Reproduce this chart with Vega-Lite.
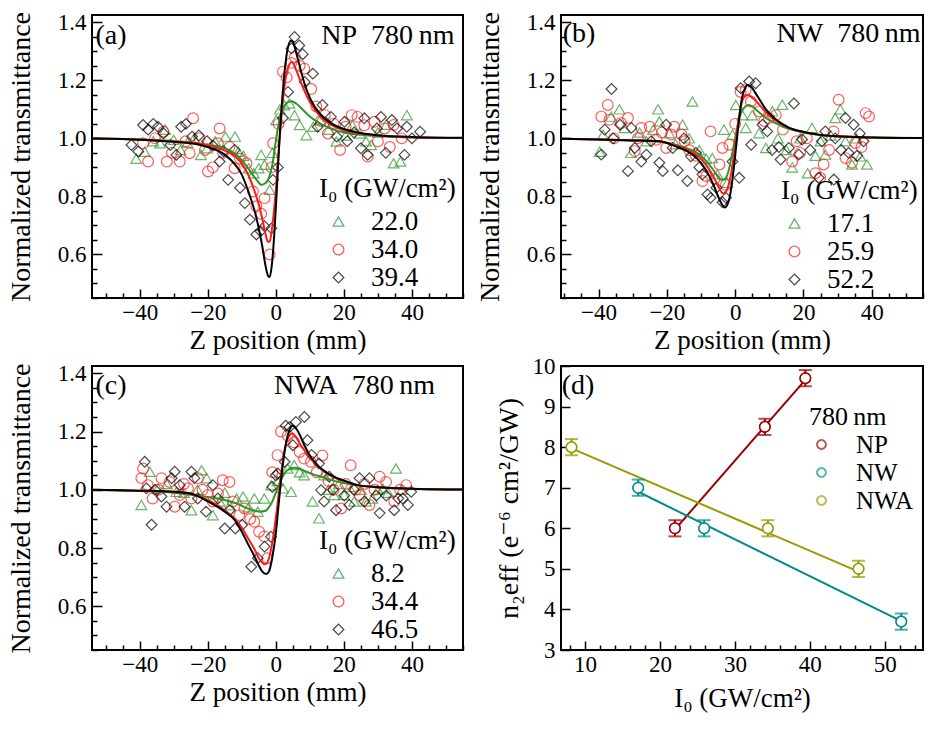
{
"$schema": "https://vega.github.io/schema/vega-lite/v6.json",
"padding": {"left": 6, "top": 10, "right": 5, "bottom": 5},
"background": "white",
"config": {
 "font": "Liberation Serif, DejaVu Serif, serif",
 "view": {"stroke": "black", "strokeWidth": 2},
 "axis": {"domain": false, "grid": false, "tickColor": "black", "tickWidth": 1.5, "labelColor": "black", "titleColor": "black"},
 "legend": {"titleColor": "black", "labelColor": "black", "symbolStrokeWidth": 1.3, "symbolSize": 115, "rowPadding": 0, "titlePadding": 5, "padding": 0},
 "text": {"font": "Liberation Serif, DejaVu Serif, serif", "color": "black"}
},
"columns": 2,
"spacing": {"row": 68, "column": 98},
"bounds": "flush",
"align": "each",
"resolve": {"scale": {"color": "independent", "shape": "independent", "stroke": "independent"}},
"datasets": {
"scan": [
{"p":"a","s":"22.0","z":-41,"t":0.93},{"p":"a","s":"22.0","z":-38.5,"t":0.954},{"p":"a","s":"22.0","z":-36,"t":0.99},{"p":"a","s":"22.0","z":-34,"t":0.983},{"p":"a","s":"22.0","z":-32.5,"t":1.03},{"p":"a","s":"22.0","z":-30,"t":0.995},{"p":"a","s":"22.0","z":-28,"t":0.96},{"p":"a","s":"22.0","z":-26,"t":0.985},{"p":"a","s":"22.0","z":-24,"t":1.0},{"p":"a","s":"22.0","z":-22,"t":0.943},{"p":"a","s":"22.0","z":-20.2,"t":0.966},{"p":"a","s":"22.0","z":-17.8,"t":0.99},{"p":"a","s":"22.0","z":-14.8,"t":1.006},{"p":"a","s":"22.0","z":-12,"t":1.006},{"p":"a","s":"22.0","z":-11,"t":0.954},{"p":"a","s":"22.0","z":-9.5,"t":0.94},{"p":"a","s":"22.0","z":-8,"t":0.897},{"p":"a","s":"22.0","z":-6.5,"t":0.88},{"p":"a","s":"22.0","z":-5,"t":0.897},{"p":"a","s":"22.0","z":-4.3,"t":0.943},{"p":"a","s":"22.0","z":-3.3,"t":0.909},{"p":"a","s":"22.0","z":-1.8,"t":0.823},{"p":"a","s":"22.0","z":-1,"t":0.95},{"p":"a","s":"22.0","z":0.1,"t":1.063},{"p":"a","s":"22.0","z":1.2,"t":1.1},{"p":"a","s":"22.0","z":2.5,"t":1.114},{"p":"a","s":"22.0","z":4,"t":1.12},{"p":"a","s":"22.0","z":5.5,"t":1.08},{"p":"a","s":"22.0","z":7,"t":1.046},{"p":"a","s":"22.0","z":9,"t":1.011},{"p":"a","s":"22.0","z":11,"t":1.04},{"p":"a","s":"22.0","z":13,"t":1.063},{"p":"a","s":"22.0","z":15.5,"t":1.03},{"p":"a","s":"22.0","z":17.8,"t":0.989},{"p":"a","s":"22.0","z":20.5,"t":1.01},{"p":"a","s":"22.0","z":22.5,"t":1.045},{"p":"a","s":"22.0","z":24.7,"t":1.017},{"p":"a","s":"22.0","z":26.5,"t":0.99},{"p":"a","s":"22.0","z":28,"t":0.977},{"p":"a","s":"22.0","z":30,"t":1.02},{"p":"a","s":"22.0","z":32.4,"t":1.047},{"p":"a","s":"22.0","z":34.6,"t":0.914},{"p":"a","s":"22.0","z":36.6,"t":0.92},{"p":"a","s":"22.0","z":38.5,"t":1.08},
{"p":"a","s":"34.0","z":-39,"t":0.983},{"p":"a","s":"34.0","z":-37.5,"t":0.92},{"p":"a","s":"34.0","z":-35.5,"t":1.0},{"p":"a","s":"34.0","z":-33,"t":1.023},{"p":"a","s":"34.0","z":-32,"t":0.92},{"p":"a","s":"34.0","z":-30.5,"t":0.95},{"p":"a","s":"34.0","z":-28.2,"t":0.92},{"p":"a","s":"34.0","z":-26.5,"t":0.99},{"p":"a","s":"34.0","z":-25.3,"t":0.949},{"p":"a","s":"34.0","z":-24.3,"t":1.069},{"p":"a","s":"34.0","z":-22.5,"t":1.0},{"p":"a","s":"34.0","z":-20.8,"t":0.96},{"p":"a","s":"34.0","z":-19.9,"t":0.886},{"p":"a","s":"34.0","z":-18.5,"t":0.9},{"p":"a","s":"34.0","z":-17,"t":0.983},{"p":"a","s":"34.0","z":-16.5,"t":1.034},{"p":"a","s":"34.0","z":-15.5,"t":0.95},{"p":"a","s":"34.0","z":-13.6,"t":0.97},{"p":"a","s":"34.0","z":-12.1,"t":0.897},{"p":"a","s":"34.0","z":-10.5,"t":0.93},{"p":"a","s":"34.0","z":-8.6,"t":0.914},{"p":"a","s":"34.0","z":-6.7,"t":0.817},{"p":"a","s":"34.0","z":-5.7,"t":0.766},{"p":"a","s":"34.0","z":-4.3,"t":0.74},{"p":"a","s":"34.0","z":-3.3,"t":0.794},{"p":"a","s":"34.0","z":-1.8,"t":0.6},{"p":"a","s":"34.0","z":-1.3,"t":0.9},{"p":"a","s":"34.0","z":-0.8,"t":0.983},{"p":"a","s":"34.0","z":0.8,"t":1.05},{"p":"a","s":"34.0","z":2.1,"t":1.23},{"p":"a","s":"34.0","z":3.2,"t":1.21},{"p":"a","s":"34.0","z":4.6,"t":1.26},{"p":"a","s":"34.0","z":5.6,"t":1.28},{"p":"a","s":"34.0","z":7,"t":1.25},{"p":"a","s":"34.0","z":8.4,"t":1.24},{"p":"a","s":"34.0","z":10.4,"t":1.17},{"p":"a","s":"34.0","z":11.9,"t":1.11},{"p":"a","s":"34.0","z":13.2,"t":1.06},{"p":"a","s":"34.0","z":14.4,"t":1.08},{"p":"a","s":"34.0","z":15.3,"t":1.017},{"p":"a","s":"34.0","z":17,"t":1.05},{"p":"a","s":"34.0","z":18.9,"t":0.96},{"p":"a","s":"34.0","z":20.5,"t":1.04},{"p":"a","s":"34.0","z":22.3,"t":1.08},{"p":"a","s":"34.0","z":24,"t":1.074},{"p":"a","s":"34.0","z":26,"t":1.045},{"p":"a","s":"34.0","z":27,"t":0.937},{"p":"a","s":"34.0","z":29,"t":1.057},{"p":"a","s":"34.0","z":30,"t":0.99},{"p":"a","s":"34.0","z":32,"t":1.034},{"p":"a","s":"34.0","z":33.5,"t":0.97},{"p":"a","s":"34.0","z":34.6,"t":1.046},{"p":"a","s":"34.0","z":37,"t":1.0},
{"p":"a","s":"39.4","z":-42.4,"t":0.977},{"p":"a","s":"39.4","z":-40.4,"t":0.955},{"p":"a","s":"39.4","z":-39,"t":1.046},{"p":"a","s":"39.4","z":-37.5,"t":1.03},{"p":"a","s":"39.4","z":-36,"t":1.05},{"p":"a","s":"39.4","z":-34.6,"t":1.04},{"p":"a","s":"39.4","z":-33,"t":1.017},{"p":"a","s":"39.4","z":-31,"t":0.977},{"p":"a","s":"39.4","z":-29.2,"t":0.943},{"p":"a","s":"39.4","z":-27.8,"t":1.04},{"p":"a","s":"39.4","z":-26.4,"t":1.05},{"p":"a","s":"39.4","z":-24.6,"t":1.006},{"p":"a","s":"39.4","z":-22.6,"t":1.01},{"p":"a","s":"39.4","z":-20.2,"t":0.99},{"p":"a","s":"39.4","z":-18.5,"t":0.975},{"p":"a","s":"39.4","z":-16.5,"t":0.92},{"p":"a","s":"39.4","z":-15.3,"t":0.955},{"p":"a","s":"39.4","z":-14,"t":0.857},{"p":"a","s":"39.4","z":-12.1,"t":0.96},{"p":"a","s":"39.4","z":-10.5,"t":0.83},{"p":"a","s":"39.4","z":-9.1,"t":0.777},{"p":"a","s":"39.4","z":-7.6,"t":0.72},{"p":"a","s":"39.4","z":-5.7,"t":0.669},{"p":"a","s":"39.4","z":-4.5,"t":0.68},{"p":"a","s":"39.4","z":-3.3,"t":0.697},{"p":"a","s":"39.4","z":-1.3,"t":0.69},{"p":"a","s":"39.4","z":-0.8,"t":0.857},{"p":"a","s":"39.4","z":0.6,"t":0.9},{"p":"a","s":"39.4","z":2.1,"t":1.07},{"p":"a","s":"39.4","z":3.6,"t":1.16},{"p":"a","s":"39.4","z":4.6,"t":1.31},{"p":"a","s":"39.4","z":5.5,"t":1.349},{"p":"a","s":"39.4","z":6.9,"t":1.32},{"p":"a","s":"39.4","z":7.9,"t":1.29},{"p":"a","s":"39.4","z":8.5,"t":1.194},{"p":"a","s":"39.4","z":10.9,"t":1.223},{"p":"a","s":"39.4","z":12.3,"t":1.04},{"p":"a","s":"39.4","z":13.7,"t":1.115},{"p":"a","s":"39.4","z":16.2,"t":1.074},{"p":"a","s":"39.4","z":17.9,"t":1.006},{"p":"a","s":"39.4","z":20.2,"t":1.057},{"p":"a","s":"39.4","z":21,"t":0.99},{"p":"a","s":"39.4","z":23,"t":1.02},{"p":"a","s":"39.4","z":25,"t":0.966},{"p":"a","s":"39.4","z":26,"t":1.069},{"p":"a","s":"39.4","z":27,"t":0.943},{"p":"a","s":"39.4","z":29.7,"t":1.034},{"p":"a","s":"39.4","z":30.9,"t":1.074},{"p":"a","s":"39.4","z":32.3,"t":0.95},{"p":"a","s":"39.4","z":34.1,"t":1.063},{"p":"a","s":"39.4","z":35.6,"t":1.034},{"p":"a","s":"39.4","z":37.8,"t":0.943},{"p":"a","s":"39.4","z":38.5,"t":1.04},{"p":"a","s":"39.4","z":40,"t":1.0},{"p":"a","s":"39.4","z":42.4,"t":1.023},
{"p":"b","s":"17.1","z":-39.7,"t":0.954},{"p":"b","s":"17.1","z":-38.7,"t":1.013},{"p":"b","s":"17.1","z":-36.3,"t":1.075},{"p":"b","s":"17.1","z":-33.9,"t":1.1},{"p":"b","s":"17.1","z":-32.4,"t":1.036},{"p":"b","s":"17.1","z":-30.5,"t":0.95},{"p":"b","s":"17.1","z":-28,"t":1.02},{"p":"b","s":"17.1","z":-26,"t":0.99},{"p":"b","s":"17.1","z":-24,"t":1.03},{"p":"b","s":"17.1","z":-22.6,"t":1.1},{"p":"b","s":"17.1","z":-22.2,"t":1.058},{"p":"b","s":"17.1","z":-19.3,"t":1.018},{"p":"b","s":"17.1","z":-17.5,"t":0.98},{"p":"b","s":"17.1","z":-15.4,"t":1.047},{"p":"b","s":"17.1","z":-13.5,"t":1.0},{"p":"b","s":"17.1","z":-12.5,"t":1.127},{"p":"b","s":"17.1","z":-10.5,"t":0.96},{"p":"b","s":"17.1","z":-8.5,"t":0.93},{"p":"b","s":"17.1","z":-6.7,"t":0.932},{"p":"b","s":"17.1","z":-5.2,"t":0.876},{"p":"b","s":"17.1","z":-3.3,"t":1.03},{"p":"b","s":"17.1","z":-2.3,"t":0.847},{"p":"b","s":"17.1","z":-0.8,"t":1.013},{"p":"b","s":"17.1","z":0.2,"t":1.115},{"p":"b","s":"17.1","z":2.1,"t":1.08},{"p":"b","s":"17.1","z":3.1,"t":1.036},{"p":"b","s":"17.1","z":5,"t":1.08},{"p":"b","s":"17.1","z":7,"t":1.018},{"p":"b","s":"17.1","z":9,"t":0.967},{"p":"b","s":"17.1","z":10.9,"t":1.093},{"p":"b","s":"17.1","z":12.5,"t":1.0},{"p":"b","s":"17.1","z":13.8,"t":1.116},{"p":"b","s":"17.1","z":15,"t":0.96},{"p":"b","s":"17.1","z":16.7,"t":0.9},{"p":"b","s":"17.1","z":19,"t":1.0},{"p":"b","s":"17.1","z":21.2,"t":0.88},{"p":"b","s":"17.1","z":22.5,"t":1.036},{"p":"b","s":"17.1","z":23.5,"t":0.94},{"p":"b","s":"17.1","z":25,"t":0.99},{"p":"b","s":"17.1","z":26.4,"t":0.944},{"p":"b","s":"17.1","z":28,"t":1.01},{"p":"b","s":"17.1","z":29.3,"t":1.07},{"p":"b","s":"17.1","z":30.8,"t":1.1},{"p":"b","s":"17.1","z":32.3,"t":0.99},{"p":"b","s":"17.1","z":34.2,"t":0.91},{"p":"b","s":"17.1","z":35.5,"t":1.0},{"p":"b","s":"17.1","z":36.6,"t":0.938},{"p":"b","s":"17.1","z":38.6,"t":0.91},
{"p":"b","s":"25.9","z":-39.2,"t":1.075},{"p":"b","s":"25.9","z":-37.3,"t":1.115},{"p":"b","s":"25.9","z":-36.8,"t":1.064},{"p":"b","s":"25.9","z":-35.5,"t":1.0},{"p":"b","s":"25.9","z":-33.4,"t":1.053},{"p":"b","s":"25.9","z":-31.4,"t":1.07},{"p":"b","s":"25.9","z":-29.4,"t":0.956},{"p":"b","s":"25.9","z":-28.5,"t":1.0},{"p":"b","s":"25.9","z":-27.5,"t":1.036},{"p":"b","s":"25.9","z":-25,"t":1.04},{"p":"b","s":"25.9","z":-23,"t":0.995},{"p":"b","s":"25.9","z":-21.5,"t":1.02},{"p":"b","s":"25.9","z":-20.2,"t":0.967},{"p":"b","s":"25.9","z":-18.7,"t":1.013},{"p":"b","s":"25.9","z":-17.8,"t":1.04},{"p":"b","s":"25.9","z":-15.7,"t":1.013},{"p":"b","s":"25.9","z":-14.8,"t":0.99},{"p":"b","s":"25.9","z":-13.5,"t":0.96},{"p":"b","s":"25.9","z":-11.5,"t":0.94},{"p":"b","s":"25.9","z":-9.6,"t":0.853},{"p":"b","s":"25.9","z":-8.5,"t":0.87},{"p":"b","s":"25.9","z":-7.2,"t":1.024},{"p":"b","s":"25.9","z":-6,"t":0.86},{"p":"b","s":"25.9","z":-4.6,"t":0.91},{"p":"b","s":"25.9","z":-3.7,"t":0.967},{"p":"b","s":"25.9","z":-2.7,"t":0.84},{"p":"b","s":"25.9","z":-1.7,"t":0.978},{"p":"b","s":"25.9","z":0,"t":1.05},{"p":"b","s":"25.9","z":1.6,"t":1.16},{"p":"b","s":"25.9","z":3.1,"t":1.167},{"p":"b","s":"25.9","z":4.6,"t":1.127},{"p":"b","s":"25.9","z":7,"t":1.093},{"p":"b","s":"25.9","z":8.5,"t":1.06},{"p":"b","s":"25.9","z":9.9,"t":1.07},{"p":"b","s":"25.9","z":11.9,"t":1.08},{"p":"b","s":"25.9","z":14,"t":1.03},{"p":"b","s":"25.9","z":16.7,"t":0.92},{"p":"b","s":"25.9","z":18,"t":0.99},{"p":"b","s":"25.9","z":19,"t":0.95},{"p":"b","s":"25.9","z":21,"t":1.0},{"p":"b","s":"25.9","z":23.5,"t":0.88},{"p":"b","s":"25.9","z":24.9,"t":0.864},{"p":"b","s":"25.9","z":25.9,"t":0.91},{"p":"b","s":"25.9","z":27.5,"t":0.96},{"p":"b","s":"25.9","z":28.8,"t":1.024},{"p":"b","s":"25.9","z":30.3,"t":1.133},{"p":"b","s":"25.9","z":32.3,"t":0.932},{"p":"b","s":"25.9","z":34.2,"t":0.916},{"p":"b","s":"25.9","z":35.2,"t":0.984},{"p":"b","s":"25.9","z":37,"t":0.97},{"p":"b","s":"25.9","z":38.2,"t":1.087},{"p":"b","s":"25.9","z":39.2,"t":1.075},
{"p":"b","s":"52.2","z":-39.2,"t":0.944},{"p":"b","s":"52.2","z":-38.2,"t":1.03},{"p":"b","s":"52.2","z":-36.2,"t":1.17},{"p":"b","s":"52.2","z":-35.7,"t":1.0},{"p":"b","s":"52.2","z":-33.7,"t":1.047},{"p":"b","s":"52.2","z":-31.4,"t":0.887},{"p":"b","s":"52.2","z":-30.4,"t":1.036},{"p":"b","s":"52.2","z":-29.4,"t":0.967},{"p":"b","s":"52.2","z":-27.5,"t":0.92},{"p":"b","s":"52.2","z":-26,"t":0.944},{"p":"b","s":"52.2","z":-24.6,"t":0.99},{"p":"b","s":"52.2","z":-22.2,"t":0.916},{"p":"b","s":"52.2","z":-21.2,"t":0.887},{"p":"b","s":"52.2","z":-20.2,"t":1.047},{"p":"b","s":"52.2","z":-18.3,"t":0.967},{"p":"b","s":"52.2","z":-16.8,"t":0.89},{"p":"b","s":"52.2","z":-15,"t":1.0},{"p":"b","s":"52.2","z":-14,"t":0.853},{"p":"b","s":"52.2","z":-13,"t":0.938},{"p":"b","s":"52.2","z":-11.5,"t":0.95},{"p":"b","s":"52.2","z":-10.5,"t":0.9},{"p":"b","s":"52.2","z":-9.6,"t":0.876},{"p":"b","s":"52.2","z":-8.1,"t":0.807},{"p":"b","s":"52.2","z":-7.2,"t":0.795},{"p":"b","s":"52.2","z":-5.5,"t":0.83},{"p":"b","s":"52.2","z":-3.7,"t":0.78},{"p":"b","s":"52.2","z":-2.7,"t":0.795},{"p":"b","s":"52.2","z":-0.8,"t":0.92},{"p":"b","s":"52.2","z":1.2,"t":0.864},{"p":"b","s":"52.2","z":1.6,"t":1.173},{"p":"b","s":"52.2","z":4.1,"t":1.196},{"p":"b","s":"52.2","z":4.7,"t":0.978},{"p":"b","s":"52.2","z":6,"t":1.19},{"p":"b","s":"52.2","z":8,"t":1.047},{"p":"b","s":"52.2","z":9.4,"t":1.024},{"p":"b","s":"52.2","z":10.8,"t":0.96},{"p":"b","s":"52.2","z":12.8,"t":0.97},{"p":"b","s":"52.2","z":13.3,"t":0.927},{"p":"b","s":"52.2","z":15.7,"t":0.967},{"p":"b","s":"52.2","z":17.2,"t":1.12},{"p":"b","s":"52.2","z":18.6,"t":0.944},{"p":"b","s":"52.2","z":19.6,"t":0.996},{"p":"b","s":"52.2","z":22,"t":0.96},{"p":"b","s":"52.2","z":24.5,"t":0.864},{"p":"b","s":"52.2","z":25.4,"t":0.99},{"p":"b","s":"52.2","z":26.4,"t":1.024},{"p":"b","s":"52.2","z":28.9,"t":0.858},{"p":"b","s":"52.2","z":29.3,"t":1.0},{"p":"b","s":"52.2","z":31,"t":0.96},{"p":"b","s":"52.2","z":32.3,"t":1.07},{"p":"b","s":"52.2","z":33.2,"t":0.95},{"p":"b","s":"52.2","z":34.7,"t":1.047},{"p":"b","s":"52.2","z":35.7,"t":0.94},{"p":"b","s":"52.2","z":36.5,"t":1.017},{"p":"b","s":"52.2","z":37.6,"t":0.99},
{"p":"c","s":"8.2","z":-39.5,"t":0.948},{"p":"c","s":"8.2","z":-37,"t":1.062},{"p":"c","s":"8.2","z":-34.6,"t":1.005},{"p":"c","s":"8.2","z":-32,"t":1.02},{"p":"c","s":"8.2","z":-29.2,"t":0.993},{"p":"c","s":"8.2","z":-27,"t":0.99},{"p":"c","s":"8.2","z":-24.8,"t":0.93},{"p":"c","s":"8.2","z":-23,"t":1.0},{"p":"c","s":"8.2","z":-21.8,"t":1.067},{"p":"c","s":"8.2","z":-20.3,"t":1.04},{"p":"c","s":"8.2","z":-18.5,"t":0.913},{"p":"c","s":"8.2","z":-16.5,"t":0.96},{"p":"c","s":"8.2","z":-15,"t":0.99},{"p":"c","s":"8.2","z":-13.6,"t":0.947},{"p":"c","s":"8.2","z":-11.5,"t":0.97},{"p":"c","s":"8.2","z":-9.6,"t":0.977},{"p":"c","s":"8.2","z":-8,"t":0.94},{"p":"c","s":"8.2","z":-6.3,"t":0.97},{"p":"c","s":"8.2","z":-5.3,"t":0.925},{"p":"c","s":"8.2","z":-3.4,"t":0.97},{"p":"c","s":"8.2","z":-1.4,"t":1.016},{"p":"c","s":"8.2","z":0.5,"t":1.03},{"p":"c","s":"8.2","z":2.1,"t":1.005},{"p":"c","s":"8.2","z":3.5,"t":1.073},{"p":"c","s":"8.2","z":4.5,"t":0.993},{"p":"c","s":"8.2","z":5.4,"t":1.085},{"p":"c","s":"8.2","z":7,"t":1.06},{"p":"c","s":"8.2","z":8.3,"t":1.05},{"p":"c","s":"8.2","z":10.8,"t":0.96},{"p":"c","s":"8.2","z":12.7,"t":0.902},{"p":"c","s":"8.2","z":14.2,"t":1.05},{"p":"c","s":"8.2","z":15.5,"t":1.0},{"p":"c","s":"8.2","z":17.1,"t":0.982},{"p":"c","s":"8.2","z":18.5,"t":1.02},{"p":"c","s":"8.2","z":20.1,"t":0.982},{"p":"c","s":"8.2","z":21.5,"t":1.01},{"p":"c","s":"8.2","z":23,"t":0.96},{"p":"c","s":"8.2","z":25,"t":1.0},{"p":"c","s":"8.2","z":26.5,"t":0.96},{"p":"c","s":"8.2","z":28.4,"t":0.97},{"p":"c","s":"8.2","z":30,"t":1.0},{"p":"c","s":"8.2","z":31.4,"t":1.005},{"p":"c","s":"8.2","z":33,"t":0.99},{"p":"c","s":"8.2","z":35.3,"t":1.073},{"p":"c","s":"8.2","z":37,"t":1.0},
{"p":"c","s":"34.4","z":-39.5,"t":1.04},{"p":"c","s":"34.4","z":-39,"t":1.073},{"p":"c","s":"34.4","z":-37.6,"t":1.016},{"p":"c","s":"34.4","z":-36.2,"t":0.97},{"p":"c","s":"34.4","z":-34.5,"t":1.0},{"p":"c","s":"34.4","z":-33.6,"t":1.04},{"p":"c","s":"34.4","z":-31.2,"t":1.027},{"p":"c","s":"34.4","z":-29.7,"t":0.942},{"p":"c","s":"34.4","z":-28.2,"t":0.982},{"p":"c","s":"34.4","z":-27,"t":1.02},{"p":"c","s":"34.4","z":-25.8,"t":1.005},{"p":"c","s":"34.4","z":-24.8,"t":0.97},{"p":"c","s":"34.4","z":-22.9,"t":1.04},{"p":"c","s":"34.4","z":-21.5,"t":1.0},{"p":"c","s":"34.4","z":-20,"t":0.982},{"p":"c","s":"34.4","z":-18.5,"t":0.96},{"p":"c","s":"34.4","z":-17,"t":0.987},{"p":"c","s":"34.4","z":-15.6,"t":1.033},{"p":"c","s":"34.4","z":-13.6,"t":1.027},{"p":"c","s":"34.4","z":-12.6,"t":0.96},{"p":"c","s":"34.4","z":-10.7,"t":0.913},{"p":"c","s":"34.4","z":-9.2,"t":0.936},{"p":"c","s":"34.4","z":-7.5,"t":0.9},{"p":"c","s":"34.4","z":-6.3,"t":0.89},{"p":"c","s":"34.4","z":-4.9,"t":0.856},{"p":"c","s":"34.4","z":-3.4,"t":0.84},{"p":"c","s":"34.4","z":-2.5,"t":0.765},{"p":"c","s":"34.4","z":-1,"t":1.06},{"p":"c","s":"34.4","z":0.5,"t":1.119},{"p":"c","s":"34.4","z":1.5,"t":1.2},{"p":"c","s":"34.4","z":3.5,"t":1.186},{"p":"c","s":"34.4","z":5.4,"t":1.163},{"p":"c","s":"34.4","z":7,"t":1.13},{"p":"c","s":"34.4","z":8.3,"t":1.107},{"p":"c","s":"34.4","z":10.3,"t":1.096},{"p":"c","s":"34.4","z":12,"t":1.06},{"p":"c","s":"34.4","z":13.7,"t":1.118},{"p":"c","s":"34.4","z":15.5,"t":1.03},{"p":"c","s":"34.4","z":17,"t":1.0},{"p":"c","s":"34.4","z":19.2,"t":0.936},{"p":"c","s":"34.4","z":20.5,"t":1.02},{"p":"c","s":"34.4","z":22,"t":1.084},{"p":"c","s":"34.4","z":23.5,"t":1.0},{"p":"c","s":"34.4","z":24.6,"t":0.982},{"p":"c","s":"34.4","z":26,"t":1.02},{"p":"c","s":"34.4","z":27.5,"t":0.948},{"p":"c","s":"34.4","z":29,"t":1.0},{"p":"c","s":"34.4","z":30.5,"t":1.045},{"p":"c","s":"34.4","z":32.4,"t":1.027},{"p":"c","s":"34.4","z":34.8,"t":0.96},{"p":"c","s":"34.4","z":36.5,"t":1.0},{"p":"c","s":"34.4","z":38.3,"t":1.016},
{"p":"c","s":"46.5","z":-38.5,"t":1.096},{"p":"c","s":"46.5","z":-38,"t":1.005},{"p":"c","s":"46.5","z":-36.5,"t":0.88},{"p":"c","s":"46.5","z":-35.5,"t":1.0},{"p":"c","s":"46.5","z":-33.6,"t":0.977},{"p":"c","s":"46.5","z":-32.1,"t":0.942},{"p":"c","s":"46.5","z":-30.6,"t":1.04},{"p":"c","s":"46.5","z":-29.7,"t":1.062},{"p":"c","s":"46.5","z":-28.2,"t":1.016},{"p":"c","s":"46.5","z":-26.8,"t":0.942},{"p":"c","s":"46.5","z":-24.8,"t":1.062},{"p":"c","s":"46.5","z":-23.9,"t":1.04},{"p":"c","s":"46.5","z":-22.9,"t":0.97},{"p":"c","s":"46.5","z":-20.5,"t":0.925},{"p":"c","s":"46.5","z":-18.5,"t":1.016},{"p":"c","s":"46.5","z":-17,"t":0.97},{"p":"c","s":"46.5","z":-15,"t":0.867},{"p":"c","s":"46.5","z":-13.5,"t":0.93},{"p":"c","s":"46.5","z":-11.9,"t":0.867},{"p":"c","s":"46.5","z":-9.9,"t":0.879},{"p":"c","s":"46.5","z":-7.2,"t":0.736},{"p":"c","s":"46.5","z":-5.3,"t":0.765},{"p":"c","s":"46.5","z":-3.3,"t":0.805},{"p":"c","s":"46.5","z":-1.4,"t":0.839},{"p":"c","s":"46.5","z":-1,"t":1.01},{"p":"c","s":"46.5","z":0,"t":1.05},{"p":"c","s":"46.5","z":0.6,"t":1.056},{"p":"c","s":"46.5","z":2.6,"t":1.096},{"p":"c","s":"46.5","z":2.9,"t":1.22},{"p":"c","s":"46.5","z":4,"t":1.215},{"p":"c","s":"46.5","z":5,"t":1.153},{"p":"c","s":"46.5","z":5.9,"t":1.233},{"p":"c","s":"46.5","z":8.4,"t":1.25},{"p":"c","s":"46.5","z":9.3,"t":1.17},{"p":"c","s":"46.5","z":10.5,"t":1.12},{"p":"c","s":"46.5","z":12.7,"t":1.09},{"p":"c","s":"46.5","z":13.3,"t":0.999},{"p":"c","s":"46.5","z":14.2,"t":0.96},{"p":"c","s":"46.5","z":15.7,"t":1.045},{"p":"c","s":"46.5","z":16.8,"t":1.0},{"p":"c","s":"46.5","z":17.7,"t":0.93},{"p":"c","s":"46.5","z":20.1,"t":0.98},{"p":"c","s":"46.5","z":21.6,"t":0.948},{"p":"c","s":"46.5","z":23,"t":1.0},{"p":"c","s":"46.5","z":24.6,"t":1.04},{"p":"c","s":"46.5","z":26,"t":0.96},{"p":"c","s":"46.5","z":27.5,"t":1.04},{"p":"c","s":"46.5","z":29.5,"t":0.98},{"p":"c","s":"46.5","z":30.5,"t":0.92},{"p":"c","s":"46.5","z":32.4,"t":0.98},{"p":"c","s":"46.5","z":34.8,"t":0.93},{"p":"c","s":"46.5","z":36,"t":0.97},{"p":"c","s":"46.5","z":37.3,"t":0.97},{"p":"c","s":"46.5","z":38.8,"t":0.948},{"p":"c","s":"46.5","z":39.8,"t":0.993}
],
"fit": [
{"p":"a","s":"22.0","z":-56,"t":1.0},{"p":"a","s":"22.0","z":-45,"t":0.998},{"p":"a","s":"22.0","z":-40,"t":0.996},{"p":"a","s":"22.0","z":-35,"t":0.994},{"p":"a","s":"22.0","z":-30,"t":0.99},{"p":"a","s":"22.0","z":-25,"t":0.985},{"p":"a","s":"22.0","z":-20,"t":0.978},{"p":"a","s":"22.0","z":-15,"t":0.966},{"p":"a","s":"22.0","z":-12,"t":0.948},{"p":"a","s":"22.0","z":-10,"t":0.925},{"p":"a","s":"22.0","z":-8,"t":0.895},{"p":"a","s":"22.0","z":-6,"t":0.862},{"p":"a","s":"22.0","z":-5,"t":0.848},{"p":"a","s":"22.0","z":-4.3,"t":0.84},{"p":"a","s":"22.0","z":-3,"t":0.846},{"p":"a","s":"22.0","z":-2,"t":0.865},{"p":"a","s":"22.0","z":-1,"t":0.91},{"p":"a","s":"22.0","z":0,"t":0.99},{"p":"a","s":"22.0","z":1,"t":1.06},{"p":"a","s":"22.0","z":2,"t":1.1},{"p":"a","s":"22.0","z":3,"t":1.12},{"p":"a","s":"22.0","z":4.5,"t":1.128},{"p":"a","s":"22.0","z":6,"t":1.12},{"p":"a","s":"22.0","z":8,"t":1.098},{"p":"a","s":"22.0","z":10,"t":1.075},{"p":"a","s":"22.0","z":12,"t":1.058},{"p":"a","s":"22.0","z":14,"t":1.045},{"p":"a","s":"22.0","z":16,"t":1.035},{"p":"a","s":"22.0","z":18,"t":1.026},{"p":"a","s":"22.0","z":20,"t":1.02},{"p":"a","s":"22.0","z":25,"t":1.012},{"p":"a","s":"22.0","z":30,"t":1.007},{"p":"a","s":"22.0","z":40,"t":1.003},{"p":"a","s":"22.0","z":56,"t":1.001},
{"p":"a","s":"34.0","z":-56,"t":1.0},{"p":"a","s":"34.0","z":-45,"t":0.998},{"p":"a","s":"34.0","z":-40,"t":0.996},{"p":"a","s":"34.0","z":-35,"t":0.993},{"p":"a","s":"34.0","z":-30,"t":0.99},{"p":"a","s":"34.0","z":-25,"t":0.986},{"p":"a","s":"34.0","z":-20,"t":0.976},{"p":"a","s":"34.0","z":-15,"t":0.958},{"p":"a","s":"34.0","z":-12,"t":0.938},{"p":"a","s":"34.0","z":-10,"t":0.914},{"p":"a","s":"34.0","z":-8,"t":0.872},{"p":"a","s":"34.0","z":-6,"t":0.81},{"p":"a","s":"34.0","z":-5,"t":0.772},{"p":"a","s":"34.0","z":-4,"t":0.725},{"p":"a","s":"34.0","z":-3,"t":0.67},{"p":"a","s":"34.0","z":-2.3,"t":0.643},{"p":"a","s":"34.0","z":-1.8,"t":0.645},{"p":"a","s":"34.0","z":-1,"t":0.7},{"p":"a","s":"34.0","z":0,"t":0.82},{"p":"a","s":"34.0","z":1,"t":0.98},{"p":"a","s":"34.0","z":2,"t":1.12},{"p":"a","s":"34.0","z":3,"t":1.215},{"p":"a","s":"34.0","z":4,"t":1.255},{"p":"a","s":"34.0","z":4.6,"t":1.263},{"p":"a","s":"34.0","z":5.2,"t":1.257},{"p":"a","s":"34.0","z":6,"t":1.235},{"p":"a","s":"34.0","z":7,"t":1.205},{"p":"a","s":"34.0","z":8,"t":1.175},{"p":"a","s":"34.0","z":10,"t":1.125},{"p":"a","s":"34.0","z":12,"t":1.09},{"p":"a","s":"34.0","z":14,"t":1.065},{"p":"a","s":"34.0","z":16,"t":1.048},{"p":"a","s":"34.0","z":18,"t":1.036},{"p":"a","s":"34.0","z":20,"t":1.028},{"p":"a","s":"34.0","z":25,"t":1.016},{"p":"a","s":"34.0","z":30,"t":1.01},{"p":"a","s":"34.0","z":40,"t":1.004},{"p":"a","s":"34.0","z":56,"t":1.001},
{"p":"a","s":"39.4","z":-56,"t":1.0},{"p":"a","s":"39.4","z":-45,"t":0.998},{"p":"a","s":"39.4","z":-40,"t":0.995},{"p":"a","s":"39.4","z":-35,"t":0.992},{"p":"a","s":"39.4","z":-30,"t":0.988},{"p":"a","s":"39.4","z":-25,"t":0.983},{"p":"a","s":"39.4","z":-20,"t":0.97},{"p":"a","s":"39.4","z":-15,"t":0.944},{"p":"a","s":"39.4","z":-12,"t":0.91},{"p":"a","s":"39.4","z":-10,"t":0.875},{"p":"a","s":"39.4","z":-8,"t":0.815},{"p":"a","s":"39.4","z":-6,"t":0.74},{"p":"a","s":"39.4","z":-5,"t":0.69},{"p":"a","s":"39.4","z":-4,"t":0.63},{"p":"a","s":"39.4","z":-3,"t":0.56},{"p":"a","s":"39.4","z":-2.3,"t":0.527},{"p":"a","s":"39.4","z":-1.8,"t":0.522},{"p":"a","s":"39.4","z":-1.2,"t":0.56},{"p":"a","s":"39.4","z":-0.5,"t":0.66},{"p":"a","s":"39.4","z":0.2,"t":0.8},{"p":"a","s":"39.4","z":1,"t":0.98},{"p":"a","s":"39.4","z":1.6,"t":1.09},{"p":"a","s":"39.4","z":2.5,"t":1.22},{"p":"a","s":"39.4","z":3.5,"t":1.31},{"p":"a","s":"39.4","z":4.5,"t":1.337},{"p":"a","s":"39.4","z":5.3,"t":1.325},{"p":"a","s":"39.4","z":6,"t":1.295},{"p":"a","s":"39.4","z":7,"t":1.25},{"p":"a","s":"39.4","z":8.4,"t":1.19},{"p":"a","s":"39.4","z":10,"t":1.14},{"p":"a","s":"39.4","z":11.4,"t":1.11},{"p":"a","s":"39.4","z":12.5,"t":1.092},{"p":"a","s":"39.4","z":14.3,"t":1.069},{"p":"a","s":"39.4","z":16,"t":1.054},{"p":"a","s":"39.4","z":18.2,"t":1.04},{"p":"a","s":"39.4","z":20,"t":1.032},{"p":"a","s":"39.4","z":24,"t":1.02},{"p":"a","s":"39.4","z":30,"t":1.011},{"p":"a","s":"39.4","z":40,"t":1.005},{"p":"a","s":"39.4","z":56,"t":1.002},
{"p":"b","s":"17.1","z":-56,"t":1.0},{"p":"b","s":"17.1","z":-40,"t":0.996},{"p":"b","s":"17.1","z":-30,"t":0.993},{"p":"b","s":"17.1","z":-22,"t":0.988},{"p":"b","s":"17.1","z":-18,"t":0.98},{"p":"b","s":"17.1","z":-14,"t":0.965},{"p":"b","s":"17.1","z":-12,"t":0.955},{"p":"b","s":"17.1","z":-10,"t":0.94},{"p":"b","s":"17.1","z":-8,"t":0.915},{"p":"b","s":"17.1","z":-6,"t":0.885},{"p":"b","s":"17.1","z":-5,"t":0.866},{"p":"b","s":"17.1","z":-4,"t":0.857},{"p":"b","s":"17.1","z":-3,"t":0.86},{"p":"b","s":"17.1","z":-2,"t":0.885},{"p":"b","s":"17.1","z":-1,"t":0.94},{"p":"b","s":"17.1","z":0,"t":1.0},{"p":"b","s":"17.1","z":1,"t":1.06},{"p":"b","s":"17.1","z":2,"t":1.095},{"p":"b","s":"17.1","z":3,"t":1.11},{"p":"b","s":"17.1","z":4,"t":1.115},{"p":"b","s":"17.1","z":5,"t":1.11},{"p":"b","s":"17.1","z":6,"t":1.1},{"p":"b","s":"17.1","z":7.5,"t":1.085},{"p":"b","s":"17.1","z":9,"t":1.07},{"p":"b","s":"17.1","z":11.4,"t":1.055},{"p":"b","s":"17.1","z":14,"t":1.04},{"p":"b","s":"17.1","z":16,"t":1.032},{"p":"b","s":"17.1","z":20,"t":1.02},{"p":"b","s":"17.1","z":25,"t":1.011},{"p":"b","s":"17.1","z":30,"t":1.006},{"p":"b","s":"17.1","z":40,"t":1.003},{"p":"b","s":"17.1","z":56,"t":1.001},
{"p":"b","s":"25.9","z":-56,"t":1.0},{"p":"b","s":"25.9","z":-40,"t":0.996},{"p":"b","s":"25.9","z":-30,"t":0.993},{"p":"b","s":"25.9","z":-22,"t":0.988},{"p":"b","s":"25.9","z":-18,"t":0.978},{"p":"b","s":"25.9","z":-14,"t":0.96},{"p":"b","s":"25.9","z":-12,"t":0.948},{"p":"b","s":"25.9","z":-10,"t":0.93},{"p":"b","s":"25.9","z":-8,"t":0.9},{"p":"b","s":"25.9","z":-6,"t":0.86},{"p":"b","s":"25.9","z":-5,"t":0.835},{"p":"b","s":"25.9","z":-4,"t":0.815},{"p":"b","s":"25.9","z":-3.5,"t":0.81},{"p":"b","s":"25.9","z":-2.5,"t":0.82},{"p":"b","s":"25.9","z":-1.5,"t":0.86},{"p":"b","s":"25.9","z":-0.5,"t":0.93},{"p":"b","s":"25.9","z":0.5,"t":1.02},{"p":"b","s":"25.9","z":1.5,"t":1.1},{"p":"b","s":"25.9","z":2.5,"t":1.14},{"p":"b","s":"25.9","z":3.8,"t":1.15},{"p":"b","s":"25.9","z":5,"t":1.14},{"p":"b","s":"25.9","z":6,"t":1.13},{"p":"b","s":"25.9","z":7.5,"t":1.11},{"p":"b","s":"25.9","z":9,"t":1.09},{"p":"b","s":"25.9","z":11.4,"t":1.065},{"p":"b","s":"25.9","z":14,"t":1.046},{"p":"b","s":"25.9","z":16,"t":1.035},{"p":"b","s":"25.9","z":20,"t":1.022},{"p":"b","s":"25.9","z":25,"t":1.012},{"p":"b","s":"25.9","z":30,"t":1.007},{"p":"b","s":"25.9","z":40,"t":1.003},{"p":"b","s":"25.9","z":56,"t":1.001},
{"p":"b","s":"52.2","z":-56,"t":1.0},{"p":"b","s":"52.2","z":-40,"t":0.996},{"p":"b","s":"52.2","z":-30,"t":0.993},{"p":"b","s":"52.2","z":-22,"t":0.99},{"p":"b","s":"52.2","z":-18,"t":0.975},{"p":"b","s":"52.2","z":-14,"t":0.955},{"p":"b","s":"52.2","z":-12,"t":0.94},{"p":"b","s":"52.2","z":-10,"t":0.915},{"p":"b","s":"52.2","z":-8,"t":0.88},{"p":"b","s":"52.2","z":-6,"t":0.83},{"p":"b","s":"52.2","z":-5,"t":0.8},{"p":"b","s":"52.2","z":-4,"t":0.775},{"p":"b","s":"52.2","z":-3,"t":0.762},{"p":"b","s":"52.2","z":-2,"t":0.78},{"p":"b","s":"52.2","z":-1,"t":0.84},{"p":"b","s":"52.2","z":0,"t":0.94},{"p":"b","s":"52.2","z":1,"t":1.05},{"p":"b","s":"52.2","z":2,"t":1.14},{"p":"b","s":"52.2","z":3,"t":1.175},{"p":"b","s":"52.2","z":3.6,"t":1.184},{"p":"b","s":"52.2","z":4.5,"t":1.18},{"p":"b","s":"52.2","z":6,"t":1.155},{"p":"b","s":"52.2","z":7.5,"t":1.127},{"p":"b","s":"52.2","z":9,"t":1.1},{"p":"b","s":"52.2","z":11.4,"t":1.07},{"p":"b","s":"52.2","z":14,"t":1.048},{"p":"b","s":"52.2","z":16,"t":1.035},{"p":"b","s":"52.2","z":20,"t":1.022},{"p":"b","s":"52.2","z":25,"t":1.012},{"p":"b","s":"52.2","z":30,"t":1.007},{"p":"b","s":"52.2","z":40,"t":1.003},{"p":"b","s":"52.2","z":56,"t":1.001},
{"p":"c","s":"8.2","z":-56,"t":1.0},{"p":"c","s":"8.2","z":-40,"t":0.996},{"p":"c","s":"8.2","z":-30,"t":0.99},{"p":"c","s":"8.2","z":-25,"t":0.983},{"p":"c","s":"8.2","z":-20,"t":0.975},{"p":"c","s":"8.2","z":-15,"t":0.965},{"p":"c","s":"8.2","z":-12,"t":0.955},{"p":"c","s":"8.2","z":-10,"t":0.945},{"p":"c","s":"8.2","z":-8,"t":0.935},{"p":"c","s":"8.2","z":-6,"t":0.928},{"p":"c","s":"8.2","z":-4.7,"t":0.925},{"p":"c","s":"8.2","z":-3,"t":0.928},{"p":"c","s":"8.2","z":-2,"t":0.94},{"p":"c","s":"8.2","z":-1,"t":0.96},{"p":"c","s":"8.2","z":0,"t":0.99},{"p":"c","s":"8.2","z":1,"t":1.02},{"p":"c","s":"8.2","z":2,"t":1.045},{"p":"c","s":"8.2","z":3,"t":1.063},{"p":"c","s":"8.2","z":4,"t":1.072},{"p":"c","s":"8.2","z":5.5,"t":1.076},{"p":"c","s":"8.2","z":7,"t":1.072},{"p":"c","s":"8.2","z":9,"t":1.062},{"p":"c","s":"8.2","z":11,"t":1.053},{"p":"c","s":"8.2","z":13.3,"t":1.045},{"p":"c","s":"8.2","z":16,"t":1.035},{"p":"c","s":"8.2","z":18,"t":1.028},{"p":"c","s":"8.2","z":20,"t":1.023},{"p":"c","s":"8.2","z":25,"t":1.014},{"p":"c","s":"8.2","z":30,"t":1.008},{"p":"c","s":"8.2","z":40,"t":1.004},{"p":"c","s":"8.2","z":56,"t":1.001},
{"p":"c","s":"34.4","z":-56,"t":1.0},{"p":"c","s":"34.4","z":-40,"t":0.997},{"p":"c","s":"34.4","z":-30,"t":0.993},{"p":"c","s":"34.4","z":-25,"t":0.986},{"p":"c","s":"34.4","z":-20,"t":0.965},{"p":"c","s":"34.4","z":-15,"t":0.93},{"p":"c","s":"34.4","z":-12,"t":0.9},{"p":"c","s":"34.4","z":-10,"t":0.87},{"p":"c","s":"34.4","z":-8,"t":0.83},{"p":"c","s":"34.4","z":-6,"t":0.79},{"p":"c","s":"34.4","z":-5,"t":0.765},{"p":"c","s":"34.4","z":-4,"t":0.75},{"p":"c","s":"34.4","z":-3.3,"t":0.744},{"p":"c","s":"34.4","z":-2.5,"t":0.75},{"p":"c","s":"34.4","z":-1.5,"t":0.79},{"p":"c","s":"34.4","z":-0.5,"t":0.86},{"p":"c","s":"34.4","z":0.5,"t":0.95},{"p":"c","s":"34.4","z":1.5,"t":1.05},{"p":"c","s":"34.4","z":2.5,"t":1.13},{"p":"c","s":"34.4","z":3.5,"t":1.175},{"p":"c","s":"34.4","z":4.8,"t":1.193},{"p":"c","s":"34.4","z":6,"t":1.18},{"p":"c","s":"34.4","z":7,"t":1.16},{"p":"c","s":"34.4","z":8.4,"t":1.135},{"p":"c","s":"34.4","z":10,"t":1.11},{"p":"c","s":"34.4","z":12,"t":1.085},{"p":"c","s":"34.4","z":14,"t":1.065},{"p":"c","s":"34.4","z":16,"t":1.05},{"p":"c","s":"34.4","z":18,"t":1.038},{"p":"c","s":"34.4","z":20,"t":1.03},{"p":"c","s":"34.4","z":24,"t":1.016},{"p":"c","s":"34.4","z":30,"t":1.009},{"p":"c","s":"34.4","z":40,"t":1.004},{"p":"c","s":"34.4","z":56,"t":1.001},
{"p":"c","s":"46.5","z":-56,"t":1.0},{"p":"c","s":"46.5","z":-40,"t":0.997},{"p":"c","s":"46.5","z":-30,"t":0.993},{"p":"c","s":"46.5","z":-25,"t":0.987},{"p":"c","s":"46.5","z":-20,"t":0.96},{"p":"c","s":"46.5","z":-15,"t":0.925},{"p":"c","s":"46.5","z":-12,"t":0.895},{"p":"c","s":"46.5","z":-10,"t":0.856},{"p":"c","s":"46.5","z":-8,"t":0.81},{"p":"c","s":"46.5","z":-7,"t":0.788},{"p":"c","s":"46.5","z":-6,"t":0.765},{"p":"c","s":"46.5","z":-5,"t":0.74},{"p":"c","s":"46.5","z":-4,"t":0.72},{"p":"c","s":"46.5","z":-2.8,"t":0.711},{"p":"c","s":"46.5","z":-2,"t":0.72},{"p":"c","s":"46.5","z":-1,"t":0.77},{"p":"c","s":"46.5","z":0,"t":0.85},{"p":"c","s":"46.5","z":1,"t":0.97},{"p":"c","s":"46.5","z":2,"t":1.08},{"p":"c","s":"46.5","z":3,"t":1.16},{"p":"c","s":"46.5","z":4,"t":1.205},{"p":"c","s":"46.5","z":5,"t":1.22},{"p":"c","s":"46.5","z":6,"t":1.21},{"p":"c","s":"46.5","z":7,"t":1.19},{"p":"c","s":"46.5","z":8.4,"t":1.153},{"p":"c","s":"46.5","z":10,"t":1.118},{"p":"c","s":"46.5","z":12,"t":1.088},{"p":"c","s":"46.5","z":13.3,"t":1.073},{"p":"c","s":"46.5","z":16,"t":1.052},{"p":"c","s":"46.5","z":18.2,"t":1.039},{"p":"c","s":"46.5","z":20,"t":1.032},{"p":"c","s":"46.5","z":24,"t":1.016},{"p":"c","s":"46.5","z":30,"t":1.009},{"p":"c","s":"46.5","z":40,"t":1.004},{"p":"c","s":"46.5","z":56,"t":1.001}
],
"n2": [
{"g":"NP","i":22.0,"n":6.0,"lo":5.8,"hi":6.2},{"g":"NP","i":34.0,"n":8.5,"lo":8.3,"hi":8.7},{"g":"NP","i":39.4,"n":9.7,"lo":9.5,"hi":9.9},
{"g":"NW","i":17.1,"n":7.0,"lo":6.8,"hi":7.2},{"g":"NW","i":25.9,"n":6.0,"lo":5.8,"hi":6.2},{"g":"NW","i":52.2,"n":3.7,"lo":3.5,"hi":3.9},
{"g":"NWA","i":8.2,"n":8.0,"lo":7.8,"hi":8.2},{"g":"NWA","i":34.4,"n":6.0,"lo":5.8,"hi":6.2},{"g":"NWA","i":46.5,"n":5.0,"lo":4.8,"hi":5.2}
],
"n2fit": [
{"g":"NP","i":22.0,"n":5.97},{"g":"NP","i":39.4,"n":9.66},
{"g":"NW","i":17.1,"n":6.9},{"g":"NW","i":52.2,"n":3.71},
{"g":"NWA","i":8.2,"n":7.97},{"g":"NWA","i":46.5,"n":4.93}
]
},
"concat": [
{
 "width": 371, "height": 283,
 "layer": [
  {"data": {"name": "scan"}, "transform": [{"filter": "datum.p === 'a'"}],
   "mark": {"type": "point", "filled": false, "strokeWidth": 1.2, "size": 115},
   "encoding": {
    "x": {"field": "z", "type": "quantitative", "scale": {"domain": [-54, 55], "nice": false, "zero": false}, "axis": {"orient": "bottom", "values": [-40, -20, 0, 20, 40], "tickSize": -9, "labelPadding": 12, "title": "Z position (mm)", "titlePadding": 3, "labelFont": "Liberation Serif, DejaVu Serif, serif", "titleFont": "Liberation Serif, DejaVu Serif, serif", "labelFontSize": 23, "titleFontSize": 27, "titleFontWeight": "normal"}},
    "y": {"field": "t", "type": "quantitative", "scale": {"domain": [0.45, 1.425], "nice": false, "zero": false}, "axis": {"orient": "left", "values": [0.6, 0.8, 1.0, 1.2, 1.4], "format": ".1f", "tickSize": -10, "labelPadding": 16, "title": "Normalized transmittance", "titlePadding": 22, "labelFont": "Liberation Serif, DejaVu Serif, serif", "titleFont": "Liberation Serif, DejaVu Serif, serif", "labelFontSize": 23, "titleFontSize": 28, "titleFontWeight": "normal"}},
    "color": {"field": "s", "type": "nominal", "scale": {"domain": ["22.0", "34.0", "39.4"], "range": ["#2a962a", "#ff1a1a", "#000000"]}, "legend": {"title": "I₀ (GW/cm²)", "orient": "bottom-right", "offset": 7, "symbolOffset": 6, "labelOffset": 19, "labelFont": "Liberation Serif, DejaVu Serif, serif", "titleFont": "Liberation Serif, DejaVu Serif, serif", "labelFontSize": 27, "titleFontSize": 27, "titleFontWeight": "normal"}},
    "shape": {"field": "s", "type": "nominal", "scale": {"domain": ["22.0", "34.0", "39.4"], "range": ["triangle-up", "circle", "diamond"]}, "legend": {"title": "I₀ (GW/cm²)", "orient": "bottom-right", "offset": 7, "symbolOffset": 6, "labelOffset": 19, "labelFont": "Liberation Serif, DejaVu Serif, serif", "titleFont": "Liberation Serif, DejaVu Serif, serif", "labelFontSize": 27, "titleFontSize": 27, "titleFontWeight": "normal"}}
   }},
  {"data": {"name": "fit"}, "transform": [{"filter": "datum.p === 'a'"}],
   "mark": {"type": "line", "interpolate": "monotone", "clip": true, "strokeWidth": 2},
   "encoding": {
    "x": {"field": "z", "type": "quantitative", "axis": {"orient": "bottom", "values": [-50, -45, -35, -30, -25, -15, -10, -5, 5, 10, 15, 25, 30, 35, 45, 50, 55], "tickSize": -5, "labels": false, "title": null}},
    "y": {"field": "t", "type": "quantitative", "axis": {"orient": "left", "values": [0.45, 0.5, 0.55, 0.65, 0.7, 0.75, 0.85, 0.9, 0.95, 1.05, 1.1, 1.15, 1.25, 1.3, 1.35], "tickSize": -5, "labels": false, "title": null}},
    "color": {"field": "s", "type": "nominal", "legend": null}
   }},
  {"data": {"values": [{"label": "(a)"}]},
   "mark": {"type": "text", "align": "left", "baseline": "middle", "fontSize": 28},
   "encoding": {"x": {"datum": -53, "type": "quantitative", "axis": null}, "y": {"datum": 1.352, "type": "quantitative", "axis": null}, "text": {"field": "label"}}},
  {"data": {"values": [{"label": "NP\u2002780\u2009nm"}]},
   "mark": {"type": "text", "align": "right", "baseline": "middle", "fontSize": 28},
   "encoding": {"x": {"datum": 52.5, "type": "quantitative", "axis": null}, "y": {"datum": 1.352, "type": "quantitative", "axis": null}, "text": {"field": "label"}}}
 ],
 "resolve": {"axis": {"x": "independent", "y": "independent"}}
},
{
 "width": 362, "height": 283,
 "layer": [
  {"data": {"name": "scan"}, "transform": [{"filter": "datum.p === 'b'"}],
   "mark": {"type": "point", "filled": false, "strokeWidth": 1.2, "size": 115},
   "encoding": {
    "x": {"field": "z", "type": "quantitative", "scale": {"domain": [-51, 55], "nice": false, "zero": false}, "axis": {"orient": "bottom", "values": [-40, -20, 0, 20, 40], "tickSize": -9, "labelPadding": 12, "title": "Z position (mm)", "titlePadding": 3, "labelFont": "Liberation Serif, DejaVu Serif, serif", "titleFont": "Liberation Serif, DejaVu Serif, serif", "labelFontSize": 23, "titleFontSize": 27, "titleFontWeight": "normal"}},
    "y": {"field": "t", "type": "quantitative", "scale": {"domain": [0.45, 1.425], "nice": false, "zero": false}, "axis": {"orient": "left", "values": [0.6, 0.8, 1.0, 1.2, 1.4], "format": ".1f", "tickSize": -10, "labelPadding": 16, "title": "Normalized transmittance", "titlePadding": 22, "labelFont": "Liberation Serif, DejaVu Serif, serif", "titleFont": "Liberation Serif, DejaVu Serif, serif", "labelFontSize": 23, "titleFontSize": 28, "titleFontWeight": "normal"}},
    "color": {"field": "s", "type": "nominal", "scale": {"domain": ["17.1", "25.9", "52.2"], "range": ["#2a962a", "#ff1a1a", "#000000"]}, "legend": {"title": "I₀ (GW/cm²)", "orient": "bottom-right", "offset": 5, "symbolOffset": 0, "labelOffset": 19, "labelFont": "Liberation Serif, DejaVu Serif, serif", "titleFont": "Liberation Serif, DejaVu Serif, serif", "labelFontSize": 27, "titleFontSize": 27, "titleFontWeight": "normal"}},
    "shape": {"field": "s", "type": "nominal", "scale": {"domain": ["17.1", "25.9", "52.2"], "range": ["triangle-up", "circle", "diamond"]}, "legend": {"title": "I₀ (GW/cm²)", "orient": "bottom-right", "offset": 5, "symbolOffset": 0, "labelOffset": 19, "labelFont": "Liberation Serif, DejaVu Serif, serif", "titleFont": "Liberation Serif, DejaVu Serif, serif", "labelFontSize": 27, "titleFontSize": 27, "titleFontWeight": "normal"}}
   }},
  {"data": {"name": "fit"}, "transform": [{"filter": "datum.p === 'b'"}],
   "mark": {"type": "line", "interpolate": "monotone", "clip": true, "strokeWidth": 2},
   "encoding": {
    "x": {"field": "z", "type": "quantitative", "axis": {"orient": "bottom", "values": [-50, -45, -35, -30, -25, -15, -10, -5, 5, 10, 15, 25, 30, 35, 45, 50, 55], "tickSize": -5, "labels": false, "title": null}},
    "y": {"field": "t", "type": "quantitative", "axis": {"orient": "left", "values": [0.45, 0.5, 0.55, 0.65, 0.7, 0.75, 0.85, 0.9, 0.95, 1.05, 1.1, 1.15, 1.25, 1.3, 1.35], "tickSize": -5, "labels": false, "title": null}},
    "color": {"field": "s", "type": "nominal", "legend": null}
   }},
  {"data": {"values": [{"label": "(b)"}]},
   "mark": {"type": "text", "align": "left", "baseline": "middle", "fontSize": 28},
   "encoding": {"x": {"datum": -50.5, "type": "quantitative", "axis": null}, "y": {"datum": 1.36, "type": "quantitative", "axis": null}, "text": {"field": "label"}}},
  {"data": {"values": [{"label": "NW\u2002780\u2009nm"}]},
   "mark": {"type": "text", "align": "right", "baseline": "middle", "fontSize": 28},
   "encoding": {"x": {"datum": 54.3, "type": "quantitative", "axis": null}, "y": {"datum": 1.36, "type": "quantitative", "axis": null}, "text": {"field": "label"}}}
 ],
 "resolve": {"axis": {"x": "independent", "y": "independent"}}
},
{
 "width": 371, "height": 284,
 "layer": [
  {"data": {"name": "scan"}, "transform": [{"filter": "datum.p === 'c'"}],
   "mark": {"type": "point", "filled": false, "strokeWidth": 1.2, "size": 115},
   "encoding": {
    "x": {"field": "z", "type": "quantitative", "scale": {"domain": [-54, 55], "nice": false, "zero": false}, "axis": {"orient": "bottom", "values": [-40, -20, 0, 20, 40], "tickSize": -9, "labelPadding": 12, "title": "Z position (mm)", "titlePadding": 3, "labelFont": "Liberation Serif, DejaVu Serif, serif", "titleFont": "Liberation Serif, DejaVu Serif, serif", "labelFontSize": 23, "titleFontSize": 27, "titleFontWeight": "normal"}},
    "y": {"field": "t", "type": "quantitative", "scale": {"domain": [0.45, 1.425], "nice": false, "zero": false}, "axis": {"orient": "left", "values": [0.6, 0.8, 1.0, 1.2, 1.4], "format": ".1f", "tickSize": -10, "labelPadding": 16, "title": "Normalized transmittance", "titlePadding": 22, "labelFont": "Liberation Serif, DejaVu Serif, serif", "titleFont": "Liberation Serif, DejaVu Serif, serif", "labelFontSize": 23, "titleFontSize": 28, "titleFontWeight": "normal"}},
    "color": {"field": "s", "type": "nominal", "scale": {"domain": ["8.2", "34.4", "46.5"], "range": ["#2a962a", "#ff1a1a", "#000000"]}, "legend": {"title": "I₀ (GW/cm²)", "orient": "bottom-right", "offset": 7, "symbolOffset": 6, "labelOffset": 19, "labelFont": "Liberation Serif, DejaVu Serif, serif", "titleFont": "Liberation Serif, DejaVu Serif, serif", "labelFontSize": 27, "titleFontSize": 27, "titleFontWeight": "normal"}},
    "shape": {"field": "s", "type": "nominal", "scale": {"domain": ["8.2", "34.4", "46.5"], "range": ["triangle-up", "circle", "diamond"]}, "legend": {"title": "I₀ (GW/cm²)", "orient": "bottom-right", "offset": 7, "symbolOffset": 6, "labelOffset": 19, "labelFont": "Liberation Serif, DejaVu Serif, serif", "titleFont": "Liberation Serif, DejaVu Serif, serif", "labelFontSize": 27, "titleFontSize": 27, "titleFontWeight": "normal"}}
   }},
  {"data": {"name": "fit"}, "transform": [{"filter": "datum.p === 'c'"}],
   "mark": {"type": "line", "interpolate": "monotone", "clip": true, "strokeWidth": 2},
   "encoding": {
    "x": {"field": "z", "type": "quantitative", "axis": {"orient": "bottom", "values": [-50, -45, -35, -30, -25, -15, -10, -5, 5, 10, 15, 25, 30, 35, 45, 50, 55], "tickSize": -5, "labels": false, "title": null}},
    "y": {"field": "t", "type": "quantitative", "axis": {"orient": "left", "values": [0.45, 0.5, 0.55, 0.65, 0.7, 0.75, 0.85, 0.9, 0.95, 1.05, 1.1, 1.15, 1.25, 1.3, 1.35], "tickSize": -5, "labels": false, "title": null}},
    "color": {"field": "s", "type": "nominal", "legend": null}
   }},
  {"data": {"values": [{"label": "(c)"}]},
   "mark": {"type": "text", "align": "left", "baseline": "middle", "fontSize": 28},
   "encoding": {"x": {"datum": -53, "type": "quantitative", "axis": null}, "y": {"datum": 1.356, "type": "quantitative", "axis": null}, "text": {"field": "label"}}},
  {"data": {"values": [{"label": "NWA\u2002780\u2009nm"}]},
   "mark": {"type": "text", "align": "right", "baseline": "middle", "fontSize": 28},
   "encoding": {"x": {"datum": 46.8, "type": "quantitative", "axis": null}, "y": {"datum": 1.356, "type": "quantitative", "axis": null}, "text": {"field": "label"}}}
 ],
 "resolve": {"axis": {"x": "independent", "y": "independent"}}
},
{
 "width": 362, "height": 284,
 "layer": [
  {"data": {"name": "n2"},
   "mark": {"type": "point", "shape": "circle", "filled": false, "strokeWidth": 1.5, "size": 110},
   "encoding": {
    "x": {"field": "i", "type": "quantitative", "scale": {"domain": [6.8, 55.1], "nice": false, "zero": false}, "axis": {"orient": "bottom", "values": [10, 20, 30, 40, 50], "tickSize": -9, "labelPadding": 12, "title": "I₀ (GW/cm²)", "titlePadding": 9, "labelFont": "Liberation Serif, DejaVu Serif, serif", "titleFont": "Liberation Serif, DejaVu Serif, serif", "labelFontSize": 23, "titleFontSize": 27, "titleFontWeight": "normal"}},
    "y": {"field": "n", "type": "quantitative", "scale": {"domain": [3, 10], "nice": false, "zero": false}, "axis": {"orient": "left", "values": [3, 4, 5, 6, 7, 8, 9, 10], "tickSize": -9, "labelPadding": 15, "title": "n₂eff (e⁻⁶ cm²/GW)", "titlePadding": 9, "labelFont": "Liberation Serif, DejaVu Serif, serif", "titleFont": "Liberation Serif, DejaVu Serif, serif", "labelFontSize": 23, "titleFontSize": 28, "titleFontWeight": "normal"}},
    "stroke": {"field": "g", "type": "nominal", "scale": {"domain": ["NP", "NW", "NWA"], "range": ["#990000", "#008b8b", "#999900"]}, "legend": {"title": ["\u00a0", "780\u2009nm"], "orient": "top-right", "offset": 10, "symbolType": "M-1,0A1,1,0,1,1,1,0A1,1,0,1,1,-1,0ZM-0.78,0A0.78,0.78,0,1,0,0.78,0A0.78,0.78,0,1,0,-0.78,0Z", "symbolSize": 100, "symbolStrokeWidth": 0.8, "symbolFillColor": "white", "symbolOffset": 0, "labelOffset": 22, "rowPadding": 2, "titlePadding": 2, "labelFont": "Liberation Serif, DejaVu Serif, serif", "titleFont": "Liberation Serif, DejaVu Serif, serif", "labelFontSize": 25, "titleFontSize": 26, "titleFontWeight": "normal"}}
   }},
  {"data": {"name": "n2fit"},
   "mark": {"type": "line", "strokeWidth": 2},
   "encoding": {
    "x": {"field": "i", "type": "quantitative", "axis": {"orient": "bottom", "values": [8, 12, 14, 16, 18, 22, 24, 26, 28, 32, 34, 36, 38, 42, 44, 46, 48, 52, 54], "tickSize": -5, "labels": false, "title": null}},
    "y": {"field": "n", "type": "quantitative", "axis": null},
    "color": {"field": "g", "type": "nominal", "scale": {"domain": ["NP", "NW", "NWA"], "range": ["#990000", "#008b8b", "#999900"]}, "legend": null}
   }},
  {"data": {"name": "n2"},
   "mark": {"type": "rule", "strokeWidth": 2},
   "encoding": {
    "x": {"field": "i", "type": "quantitative", "axis": null},
    "y": {"field": "lo", "type": "quantitative", "axis": null},
    "y2": {"field": "hi"},
    "color": {"field": "g", "type": "nominal", "legend": null}
   }},
  {"data": {"name": "n2"},
   "mark": {"type": "tick", "orient": "horizontal", "size": 13, "thickness": 2},
   "encoding": {
    "x": {"field": "i", "type": "quantitative", "axis": null},
    "y": {"field": "lo", "type": "quantitative", "axis": null},
    "color": {"field": "g", "type": "nominal", "legend": null}
   }},
  {"data": {"name": "n2"},
   "mark": {"type": "tick", "orient": "horizontal", "size": 13, "thickness": 2},
   "encoding": {
    "x": {"field": "i", "type": "quantitative", "axis": null},
    "y": {"field": "hi", "type": "quantitative", "axis": null},
    "color": {"field": "g", "type": "nominal", "legend": null}
   }},
  {"data": {"name": "n2"},
   "mark": {"type": "point", "shape": "circle", "filled": false, "fill": "white", "fillOpacity": 1, "strokeWidth": 1.5, "size": 110},
   "encoding": {
    "x": {"field": "i", "type": "quantitative", "axis": null},
    "y": {"field": "n", "type": "quantitative", "axis": null},
    "stroke": {"field": "g", "type": "nominal", "legend": null}
   }},
  {"data": {"values": [{"label": "(d)"}]},
   "mark": {"type": "text", "align": "left", "baseline": "middle", "fontSize": 28},
   "encoding": {"x": {"datum": 6.9, "type": "quantitative", "axis": null}, "y": {"datum": 9.51, "type": "quantitative", "axis": null}, "text": {"field": "label"}}}
 ],
 "resolve": {"axis": {"x": "independent", "y": "independent"}}
}
]
}
